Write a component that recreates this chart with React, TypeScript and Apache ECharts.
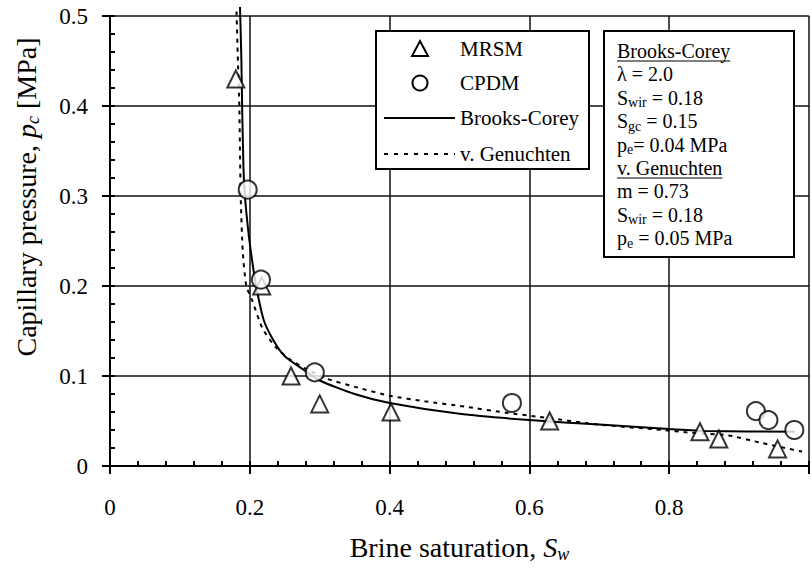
import React, { useEffect, useRef } from "react";
import * as echarts from "echarts";

// ---- data ----
const mrsmSw = [0.18, 0.217, 0.259, 0.3, 0.402, 0.629, 0.844, 0.871, 0.955];
const mrsmPc = [0.43, 0.2, 0.1, 0.069, 0.06, 0.05, 0.038, 0.03, 0.019];

const cpdmSw = [0.197, 0.216, 0.293, 0.575, 0.924, 0.942, 0.979];
const cpdmPc = [0.307, 0.207, 0.104, 0.07, 0.061, 0.051, 0.04];

const bcSw = [0.186, 0.188, 0.189, 0.191, 0.193, 0.198, 0.203, 0.209, 0.22, 0.235, 0.25, 0.275, 0.3, 0.35, 0.4, 0.5, 0.6, 0.7, 0.8, 0.85, 0.98];
const bcPc = [0.51, 0.45, 0.4, 0.33, 0.3, 0.26, 0.23, 0.2, 0.162, 0.138, 0.122, 0.108, 0.095, 0.08, 0.07, 0.058, 0.051, 0.046, 0.041, 0.039, 0.038];

const vgSw = [0.181, 0.183, 0.185, 0.187, 0.19, 0.195, 0.203, 0.218, 0.237, 0.258, 0.28, 0.31, 0.355, 0.4, 0.45, 0.507, 0.568, 0.61, 0.7, 0.79, 0.83, 0.885, 0.93, 0.99];
const vgPc = [0.505, 0.45, 0.4, 0.3, 0.237, 0.2, 0.185, 0.153, 0.132, 0.118, 0.108, 0.097, 0.087, 0.078, 0.072, 0.066, 0.059, 0.055, 0.046, 0.04, 0.037, 0.034, 0.026, 0.016];

const seriesNames = ["MRSM", "CPDM", "Brooks-Corey", "v. Genuchten"];

const xTickLabels = ["0", "0.2", "0.4", "0.6", "0.8", ""];
const yTickLabels = ["0", "0.1", "0.2", "0.3", "0.4", "0.5"];

const xName = "Brine saturation, {i|S}{sub|w}";
const yName = "Capillary pressure, {i|p}{sub|c} [MPa]";

const boxLines = [
  "Brooks-Corey",
  "λ = 2.0",
  "S{s|wir} = 0.18",
  "S{s|gc} = 0.15",
  "p{s|e}= 0.04 MPa",
  "v. Genuchten",
  "m = 0.73",
  "S{s|wir} = 0.18",
  "p{s|e} = 0.05 MPa",
];
const underlined = [0, 5];

const FONT = "Liberation Serif";

function zip(a: number[], b: number[]) {
  return a.map((v, i) => [v, b[i]]);
}

export default function App() {
  const ref = useRef<HTMLDivElement>(null);
  useEffect(() => {
    if (!ref.current) return;
    const chart = echarts.init(ref.current, undefined, { renderer: "svg" });

    const graphics: any[] = [];

    // ---- legend box (drawn) ----
    const lgX = 376, lgY = 31, lgW = 213, lgH = 138;
    const rowY = [49, 83, 118, 154];
    const iconCx = 420;
    const textX = 460;
    graphics.push({
      type: "rect",
      z: 100,
      shape: { x: lgX, y: lgY, width: lgW, height: lgH },
      style: { fill: "#fff", stroke: "#000", lineWidth: 2 },
    });
    graphics.push({
      type: "polygon",
      z: 101,
      shape: { points: [[iconCx, rowY[0] - 8], [iconCx + 8, rowY[0] + 7], [iconCx - 8, rowY[0] + 7]] },
      style: { fill: "#fff", stroke: "#000", lineWidth: 2 },
    });
    graphics.push({
      type: "circle",
      z: 101,
      shape: { cx: iconCx, cy: rowY[1], r: 7.5 },
      style: { fill: "#fff", stroke: "#000", lineWidth: 2 },
    });
    graphics.push({
      type: "line",
      z: 101,
      shape: { x1: 384, y1: rowY[2], x2: 455, y2: rowY[2] },
      style: { stroke: "#000", lineWidth: 2 },
    });
    graphics.push({
      type: "line",
      z: 101,
      shape: { x1: 384, y1: rowY[3], x2: 455, y2: rowY[3] },
      style: { stroke: "#000", lineWidth: 2, lineDash: [4, 6] },
    });
    seriesNames.forEach((n, i) => {
      graphics.push({
        type: "text",
        z: 101,
        x: textX,
        y: rowY[i],
        style: {
          text: n,
          fontFamily: FONT,
          fontSize: 21,
          fill: "#000",
          align: "left",
          verticalAlign: "middle",
        },
      });
    });

    // ---- parameter box ----
    const boxFont = 20;
    const boxX = 617;
    const base0 = 58;
    const step = 23.4;
    graphics.push({
      type: "rect",
      z: 100,
      shape: { x: 604, y: 31, width: 190, height: 226 },
      style: { fill: "#fff", stroke: "#000", lineWidth: 2 },
    });
    boxLines.forEach((t, i) => {
      const yc = base0 + i * step - 7;
      graphics.push({
        type: "text",
        z: 101,
        x: boxX,
        y: yc,
        style: {
          text: t,
          fontFamily: FONT,
          fontSize: boxFont,
          fill: "#000",
          align: "left",
          verticalAlign: "middle",
          rich: {
            s: { fontFamily: FONT, fontSize: 14, fill: "#000", padding: [10, 0, 0, 0], lineHeight: 20 },
          },
        },
      });
      if (underlined.includes(i)) {
        const w = new echarts.graphic.Text({
          style: { text: t, fontFamily: FONT, fontSize: boxFont },
        }).getBoundingRect().width;
        const yu = base0 + i * step + 3;
        graphics.push({
          type: "line",
          z: 101,
          shape: { x1: boxX, y1: yu, x2: boxX + w, y2: yu },
          style: { stroke: "#000", lineWidth: 1.2 },
        });
      }
    });

    const axisLineStyle = { color: "#000", width: 2 };
    const splitStyle = { color: "#111", width: 1.5 };

    chart.setOption({
      animation: false,
      backgroundColor: "#fff",
      grid: { left: 110, top: 16, width: 704, height: 450, containLabel: false },
      xAxis: [
        {
          type: "value",
          min: 0,
          max: 1,
          interval: 0.2,
          position: "bottom",
          name: xName,
          nameLocation: "middle",
          nameGap: 66,
          nameTextStyle: {
            fontFamily: FONT,
            fontSize: 28,
            color: "#000",
            lineHeight: 30,
            rich: {
              i: { fontFamily: FONT, fontSize: 28, fontStyle: "italic", color: "#000", lineHeight: 30 },
              sub: { fontFamily: FONT, fontSize: 18, fontStyle: "italic", color: "#000", lineHeight: 30, padding: [14, 0, 0, 0] },
            },
          },
          axisLine: { show: true, onZero: false, lineStyle: axisLineStyle },
          axisTick: { show: true, length: 8, lineStyle: axisLineStyle },
          axisLabel: {
            fontFamily: FONT,
            fontSize: 23,
            color: "#000",
            margin: 30,
            formatter: (v: number) => xTickLabels[Math.round(v / 0.2)] ?? "",
          },
          splitLine: { show: true, lineStyle: splitStyle },
        },
        {
          type: "value",
          min: 0,
          max: 1,
          interval: 0.04,
          position: "bottom",
          axisLine: { show: false, onZero: false },
          axisTick: { show: true, inside: true, length: 5, lineStyle: axisLineStyle },
          axisLabel: { show: false },
          splitLine: { show: false },
        },
      ],
      yAxis: [
        {
          type: "value",
          min: 0,
          max: 0.5,
          interval: 0.1,
          position: "left",
          name: yName,
          nameLocation: "middle",
          nameGap: 69,
          nameTextStyle: {
            fontFamily: FONT,
            fontSize: 28,
            color: "#000",
            lineHeight: 30,
            padding: [0, 0, 0, 88],
            rich: {
              i: { fontFamily: FONT, fontSize: 28, fontStyle: "italic", color: "#000", lineHeight: 30 },
              sub: { fontFamily: FONT, fontSize: 18, fontStyle: "italic", color: "#000", lineHeight: 30, padding: [14, 0, 0, 0] },
            },
          },
          axisLine: { show: true, onZero: false, lineStyle: axisLineStyle },
          axisTick: { show: true, length: 8, lineStyle: axisLineStyle },
          axisLabel: {
            fontFamily: FONT,
            fontSize: 23,
            color: "#000",
            margin: 22,
            formatter: (v: number) => yTickLabels[Math.round(v / 0.1)] ?? "",
          },
          splitLine: { show: true, lineStyle: splitStyle },
        },
        {
          type: "value",
          min: 0,
          max: 0.5,
          interval: 0.02,
          position: "left",
          axisLine: { show: false, onZero: false },
          axisTick: { show: true, inside: true, length: 5, lineStyle: axisLineStyle },
          axisLabel: { show: false },
          splitLine: { show: false },
        },
      ],
      series: [
        {
          name: "Brooks-Corey",
          type: "line",
          data: zip(bcSw, bcPc),
          symbol: "none",
          clip: false,
          smooth: 0.2,
          lineStyle: { color: "#000", width: 2, type: "solid" },
          itemStyle: { color: "#000" },
          z: 3,
        },
        {
          name: "v. Genuchten",
          type: "line",
          data: zip(vgSw, vgPc),
          symbol: "none",
          clip: false,
          smooth: 0.2,
          lineStyle: { color: "#000", width: 2, type: [4, 5] },
          itemStyle: { color: "#000" },
          z: 3,
        },
        {
          name: "MRSM",
          type: "scatter",
          data: zip(mrsmSw, mrsmPc),
          symbol: "triangle",
          symbolSize: 17,
          itemStyle: { color: "#fff", borderColor: "#000", borderWidth: 2 },
          z: 5,
        },
        {
          name: "CPDM",
          type: "scatter",
          data: zip(cpdmSw, cpdmPc),
          symbol: "circle",
          symbolSize: 18,
          itemStyle: { color: "#fff", borderColor: "#000", borderWidth: 2 },
          z: 5,
        },
      ],
      graphic: graphics,
    });
    return () => chart.dispose();
  }, []);
  return (
    <div
      ref={ref}
      style={{ position: "fixed", left: 0, top: 0, width: 812, height: 574, background: "#fff" }}
    />
  );
}
